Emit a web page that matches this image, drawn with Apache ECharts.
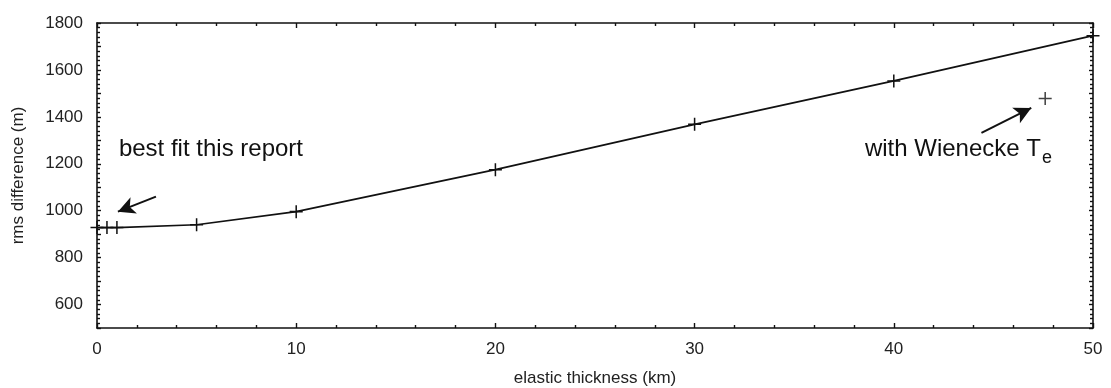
<!DOCTYPE html>
<html>
<head>
<meta charset="utf-8">
<script src="https://cdn.jsdelivr.net/npm/echarts@6/dist/echarts.min.js"></script>
<style>
  html, body { margin: 0; padding: 0; background: #fff; }
  #chart { width: 1111px; height: 388px; }
</style>
</head>
<body>
<div id="chart"></div>
<script>
// elastic thickness (km) vs rms difference (m)
const thickness = [0, 0.5, 1, 5, 10, 20, 30, 40, 50];
const rmsDiff = [928, 928, 928, 940, 996, 1175, 1368, 1553, 1746];
const wienecke = [[47.6, 1478]];
const yLabels = [600, 800, 1000, 1200, 1400, 1600, 1800];

const FONT = '"Liberation Sans", Arial, sans-serif';
const INK = '#111';
const cross = 'path://M5.3,0H6.7V5.3H12V6.7H6.7V12H5.3V6.7H0V5.3H5.3Z';

const chart = echarts.init(document.getElementById('chart'));

function frameAxis(extra) {
  return Object.assign({
    type: 'value',
    axisLine: { onZero: false, lineStyle: { color: INK, width: 1.6 } },
    splitLine: { show: false },
    minorSplitLine: { show: false }
  }, extra);
}

chart.setOption({
  animation: false,
  textStyle: { fontFamily: FONT },
  grid: { left: 97, right: 18, top: 23, bottom: 60, containLabel: false, outerBoundsMode: 'none' },
  xAxis: [
    frameAxis({
      min: 0, max: 50, interval: 10, position: 'bottom',
      name: 'elastic thickness (km)', nameLocation: 'middle', nameGap: 42,
      nameTextStyle: { fontSize: 17, color: '#222', fontFamily: FONT },
      axisTick: { inside: true, length: 5, lineStyle: { color: INK, width: 1.4 } },
      minorTick: { show: true, splitNumber: 5, length: 3, lineStyle: { color: INK, width: 1.4 } },
      axisLabel: { fontSize: 17, color: '#222', margin: 13, fontFamily: FONT }
    }),
    frameAxis({
      min: 0, max: 50, interval: 10, position: 'top',
      axisTick: { inside: true, length: 5, lineStyle: { color: INK, width: 1.4 } },
      minorTick: { show: true, splitNumber: 5, length: 3, lineStyle: { color: INK, width: 1.4 } },
      axisLabel: { show: false }
    })
  ],
  yAxis: [
    frameAxis({
      min: 500, max: 1800, interval: 100, position: 'left',
      name: 'rms difference (m)', nameLocation: 'middle', nameGap: 70,
      nameTextStyle: { fontSize: 17, color: '#222', fontFamily: FONT },
      axisTick: { inside: true, length: 4, lineStyle: { color: INK, width: 1.4 } },
      minorTick: { show: true, splitNumber: 5, length: 3, lineStyle: { color: INK, width: 1.4 } },
      axisLabel: {
        fontSize: 17, color: '#222', margin: 14, fontFamily: FONT,
        formatter: v => (yLabels.indexOf(v) >= 0 ? String(v) : '')
      }
    }),
    frameAxis({
      min: 500, max: 1800, interval: 100, position: 'right',
      axisTick: { inside: true, length: 4, lineStyle: { color: INK, width: 1.4 } },
      minorTick: { show: true, splitNumber: 5, length: 3, lineStyle: { color: INK, width: 1.4 } },
      axisLabel: { show: false }
    })
  ],
  series: [
    {
      type: 'line',
      data: thickness.map((x, i) => [x, rmsDiff[i]]),
      symbol: cross, symbolSize: 13, showAllSymbol: true,
      itemStyle: { color: INK },
      lineStyle: { color: INK, width: 1.7 },
      clip: false,
      markLine: {
        silent: true,
        symbol: ['none', 'arrow'],
        symbolSize: [13, 17],
        lineStyle: { color: INK, width: 2, type: 'solid' },
        label: { show: false },
        data: [
          [{ coord: [2.96, 1060] }, { coord: [1.05, 996] }],
          [{ coord: [44.4, 1332] }, { coord: [46.9, 1438] }]
        ]
      },
      markPoint: {
        silent: true,
        symbolSize: 0,
        data: [
          {
            coord: [1.1, 1260],
            label: {
              show: true, position: 'right', distance: 0,
              formatter: 'best fit this report',
              fontSize: 24, color: INK, fontFamily: FONT
            }
          },
          {
            coord: [38.55, 1260],
            label: {
              show: true, position: 'right', distance: 0,
              formatter: '{a|with Wienecke T}{s|e}',
              rich: {
                a: { fontSize: 24, color: INK, fontFamily: FONT },
                s: { fontSize: 18, color: INK, fontFamily: FONT, padding: [16, 0, 0, 1] }
              }
            }
          }
        ]
      }
    },
    {
      type: 'scatter',
      data: wienecke,
      symbol: cross, symbolSize: 13,
      itemStyle: { color: INK }
    }
  ]
});
</script>
</body>
</html>
